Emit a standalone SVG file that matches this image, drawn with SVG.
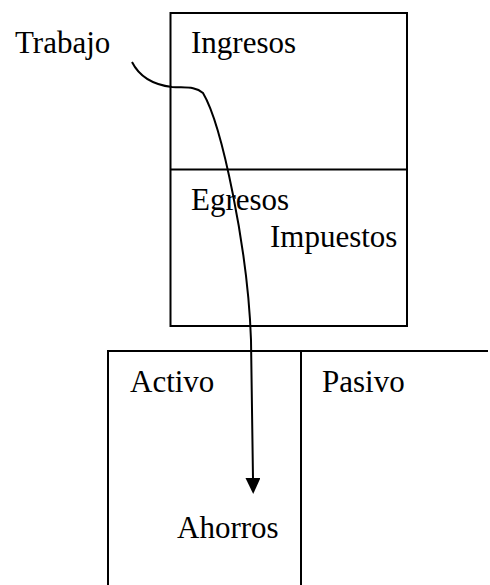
<svg xmlns="http://www.w3.org/2000/svg" width="490" height="585" viewBox="0 0 490 585">
<style>
text{font-family:"Liberation Serif","Times New Roman",serif;font-size:31px;fill:#000}
.ln{fill:none;stroke:#000;stroke-width:2}
</style>
<defs>
<marker id="ah" markerWidth="16" markerHeight="15" refX="1" refY="7.5" orient="auto" markerUnits="userSpaceOnUse" viewBox="0 0 16 15">
<path d="M0,0 L16,7.5 L0,15 Z" fill="#000"/>
</marker>
</defs>
<rect width="490" height="585" fill="#fff"/>
<g id="presupuesto">
<rect class="ln" x="170.5" y="13" width="236.5" height="313"/>
<line class="ln" x1="170.5" y1="169.5" x2="407" y2="169.5"/>
<text x="191" y="53">Ingresos</text>
<text x="191" y="210">Egresos</text>
<text x="270" y="247">Impuestos</text>
</g>
<g id="balance">
<path class="ln" d="M108,585 L108,351 L488,351 M301,351 L301,585"/>
<text x="130" y="392">Activo</text>
<text x="322" y="392">Pasivo</text>
<text x="177" y="538">Ahorros</text>
</g>
<g id="trabajo">
<text x="15" y="53">Trabajo</text>
</g>
<g id="connectors">
<path class="ln" stroke-width="1.8" d="M132,62 C140,78 155,85 172,87 C185,88 195,86 203,93 C222,125 248,250 251,340 L253,479" marker-end="url(#ah)"/>
</g>
</svg>
